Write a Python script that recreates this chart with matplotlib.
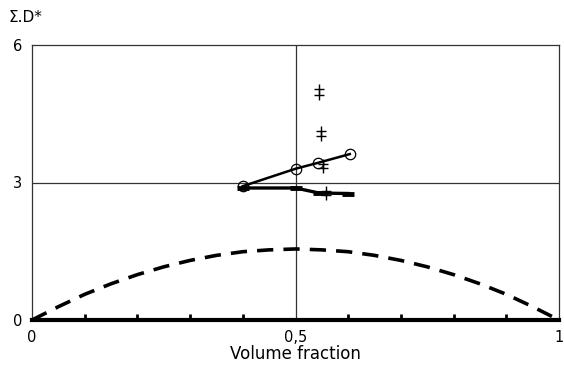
import matplotlib
matplotlib.use("Agg")
import matplotlib.pyplot as plt
from matplotlib.ticker import FixedLocator

# Data
curve_x = [0.0, 0.05, 0.1, 0.15, 0.2, 0.25, 0.3, 0.35, 0.4, 0.45, 0.5,
           0.55, 0.6, 0.65, 0.7, 0.75, 0.8, 0.85, 0.9, 0.95, 1.0]
curve_y = [0.0, 0.29, 0.56, 0.79, 0.99, 1.16, 1.30, 1.41, 1.49, 1.53, 1.55,
           1.53, 1.49, 1.41, 1.30, 1.16, 0.99, 0.79, 0.56, 0.29, 0.0]
circ_x = [0.40, 0.50, 0.543, 0.603]
circ_y = [2.92, 3.30, 3.43, 3.62]
bar_x = [0.40, 0.50, 0.545, 0.60]
bar_y = [2.88, 2.88, 2.77, 2.76]
plus_x = [0.545, 0.548, 0.552, 0.558]
plus_hi = [5.03, 4.13, 3.41, 2.82]
plus_lo = [4.92, 4.02, 3.31, 2.72]
xticks = [0, 0.5, 1]
xticklabels = ["0", "0,5", "1"]
yticks = [0, 3, 6]
yticklabels = ["0", "3", "6"]

plt.rcParams['font.family'] = ['DejaVu Sans']
fig = plt.figure(figsize=(5.64, 3.8), dpi=100)
ax = fig.add_axes([32/564, 60/380, (559-32)/564, (320-45)/380])
ax.set_xlim(0, 1)
ax.set_ylim(0, 6)

ax.axvline(0.5, color='#333333', lw=0.9, zorder=1)
ax.axhline(3, color='#333333', lw=0.9, zorder=1)

ax.plot(curve_x, curve_y, color='black', lw=2.6, ls=(0, (4.5, 2.8)), zorder=3, clip_on=False)
ax.plot(circ_x, circ_y, color='black', lw=1.8, marker='o', ms=7.5, mfc='none', mec='black', mew=0.9, zorder=4)
ax.plot(bar_x, bar_y, color='black', lw=2.4, marker='_', ms=9, mew=3.5, zorder=4)
ax.plot(plus_x, plus_hi, ls='none', marker='+', ms=7, mew=1.0, color='black', zorder=5)
ax.plot(plus_x, plus_lo, ls='none', marker='+', ms=7, mew=1.0, color='black', zorder=5)

for s in ['left', 'top', 'right']:
    ax.spines[s].set_linewidth(0.9)
    ax.spines[s].set_color('#333333')
ax.spines['bottom'].set_linewidth(3)
ax.spines['bottom'].set_color('black')

ax.set_xticks(xticks)
ax.set_xticklabels(xticklabels, fontsize=10.5)
ax.xaxis.set_minor_locator(FixedLocator([0.1 * i for i in range(11)]))
ax.tick_params(axis='x', which='both', direction='in', length=4, width=2, pad=7)
ax.tick_params(axis='x', which='major', length=0)
ax.set_yticks(yticks)
ax.set_yticklabels(yticklabels, fontsize=10.5)
ax.tick_params(axis='y', length=0, pad=7)

ax.set_xlabel("Volume fraction", fontsize=12, labelpad=0)
fig.text(8/564, 1 - 18/380, "Σ.D*", fontsize=11, va='center', ha='left')

fig.savefig("out.png", dpi=100)
